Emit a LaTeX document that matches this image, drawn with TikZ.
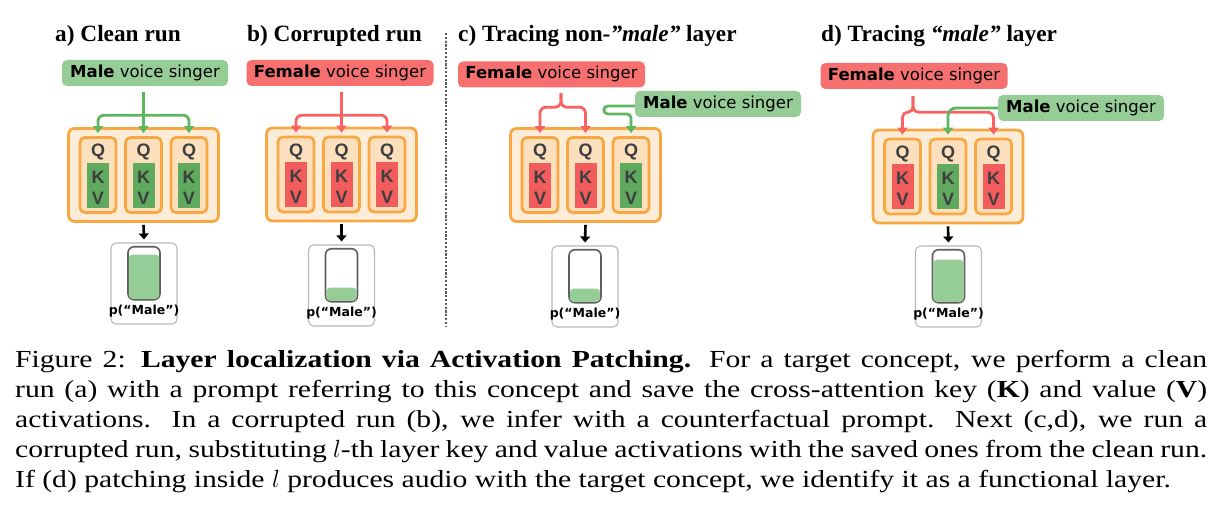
\documentclass[tikz,border=0pt]{standalone}
\usepackage{fontspec}
\setmainfont{Liberation Serif}
\newfontfamily\capfont[FakeStretch=1.21]{Liberation Serif}
\newfontfamily\comicfont{DejaVu Sans}
\newfontfamily\qkvfont{Liberation Sans}
\usetikzlibrary{arrows.meta,calc}
\definecolor{pgreen}{RGB}{150,204,150}
\definecolor{pred}{RGB}{247,112,112}
\definecolor{kvgreen}{RGB}{96,170,96}
\definecolor{kvred}{RGB}{242,92,92}
\definecolor{agreen}{RGB}{96,182,96}
\definecolor{ared}{RGB}{250,98,98}
\definecolor{orng}{RGB}{247,168,66}
\definecolor{ofill}{RGB}{253,237,216}
\definecolor{hfill}{RGB}{252,224,190}
\definecolor{lgray}{RGB}{62,62,62}
\definecolor{boxgray}{RGB}{185,185,185}
\definecolor{jargray}{RGB}{95,95,95}
\definecolor{dotgray}{RGB}{90,90,90}
\tikzset{
  prompt/.style={rounded corners=5pt, inner sep=0pt, minimum height=26pt,
    text height=12pt, text depth=3.5pt,
    font=\comicfont\fontsize{16.5}{18}\selectfont, text=black},
  maleprompt/.style={prompt, fill=pgreen, minimum width=166pt},
  femaleprompt/.style={prompt, fill=pred, minimum width=187pt},
  layerbox/.style={draw=orng, line width=2.8pt, fill=ofill, rounded corners=6pt,
    minimum width=150pt, minimum height=93pt, inner sep=0pt},
  headbox/.style={draw=orng, line width=2.8pt, fill=hfill, rounded corners=5pt,
    minimum width=36pt, minimum height=75pt, inner sep=0pt},
  kvbox/.style={minimum width=22pt, minimum height=45pt, inner sep=0pt},
  letter/.style={font=\qkvfont\bfseries\fontsize{18}{18}\selectfont, text=lgray, inner sep=0pt},
  probbox/.style={draw=boxgray, line width=1.1pt, rounded corners=5pt,
    minimum width=66pt, minimum height=81pt, inner sep=0pt},
  jarbox/.style={draw=jargray, line width=1.6pt, rounded corners=6pt,
    minimum width=32pt, minimum height=53pt, inner sep=0pt},
  plabel/.style={font=\comicfont\bfseries\fontsize{12.5}{13}\selectfont, inner sep=0pt},
  paneltitle/.style={font=\bfseries\fontsize{23.3}{26}\selectfont, inner sep=0pt, anchor=base west},
  garr/.style={draw=agreen, line width=2.8pt, -{Triangle[width=10pt,length=7pt]}},
  rarr/.style={draw=ared, line width=2.8pt, -{Triangle[width=10pt,length=7pt]}},
  garrline/.style={draw=agreen, line width=2.8pt},
  rarrline/.style={draw=ared, line width=2.8pt},
  karr/.style={draw=black, line width=2.6pt, -{Triangle[width=10pt,length=6pt]}},
}
\newcommand\headunit[4]{%
  \node[headbox] (#1) at (#2,#3) {};
  \node[kvbox, fill=#4] (#1kv) at ([yshift=-10.5pt]#1.center) {};
  \node[letter] (#1q) at ([yshift=23pt]#1.center) {Q};
  \node[letter] (#1k) at ([yshift=-2pt]#1.center) {K};
  \node[letter] (#1v) at ([yshift=-23pt]#1.center) {V};
}
\newcommand\layerunit[6]{%
  \node[layerbox] (#1L) at (#2,#3) {};
  \headunit{#1H1}{#2-45.5}{#3}{#4}
  \headunit{#1H2}{#2}{#3}{#5}
  \headunit{#1H3}{#2+45.5}{#3}{#6}
}
\newcommand\probunit[4]{%
  \node[probbox] (#1O) at (#2,#3+40.5) {};
  \node[jarbox, anchor=north] (#1J) at ([yshift=-3.5pt]#1O.north) {};
  \fill[pgreen, rounded corners=4pt] ([xshift=1.6pt,yshift=1.6pt]#1J.south west)
     rectangle ([xshift=-1.6pt,yshift=#4pt]#1J.south east);
  \node[plabel] (#1p) at ([yshift=13pt]#1O.south) {p(“Male”)};
}
\begin{document}
\begin{tikzpicture}[x=1pt,y=-1pt]
\useasboundingbox (0,0) rectangle (1224,526);

% titles
\node[paneltitle] (ta) at (55,42) {a) Clean run};
\node[paneltitle] (tb) at (247,42) {b) Corrupted run};
\node[paneltitle] (tc) at (458,42) {c) Tracing non-\textit{”male”} layer};
\node[paneltitle] (td) at (821,42) {d) Tracing \textit{“male”} layer};

% separator
\draw[dotgray, line width=2.6pt, dash pattern=on 2.2pt off 1.6pt] (446,33) -- (446,327);

% prompts
\node[maleprompt] (aP) at (145,73) {\textbf{Male} voice singer};
\node[femaleprompt] (bP) at (340,73) {\textbf{Female} voice singer};
\node[femaleprompt] (cP) at (551.5,74.5) {\textbf{Female} voice singer};
\node[maleprompt] (cM) at (718,104) {\textbf{Male} voice singer};
\node[femaleprompt] (dP) at (914,76) {\textbf{Female} voice singer};
\node[maleprompt] (dM) at (1081,108) {\textbf{Male} voice singer};

% layers
\layerunit{a}{143.5}{175}{kvgreen}{kvgreen}{kvgreen}
\layerunit{b}{341.5}{174.5}{kvred}{kvred}{kvred}
\layerunit{c}{585.5}{175}{kvred}{kvred}{kvgreen}
\layerunit{d}{948}{176.5}{kvred}{kvgreen}{kvred}

% panel a connectors
\coordinate (aS) at ([yshift=-6pt]aP.south -| aH2.north);
\draw[garrline] (aS) -- ++(0,23) coordinate (aB);
\draw[garr, rounded corners=6pt] (aB) -| ([yshift=3pt]aH1.north);
\draw[garr, rounded corners=6pt] (aB) -| ([yshift=3pt]aH3.north);
\draw[garr] (aS) -- ([yshift=3pt]aH2.north);

% panel b connectors
\coordinate (bS) at ([yshift=-6pt]bP.south -| bH2.north);
\draw[rarrline] (bS) -- ++(0,23) coordinate (bB);
\draw[rarr, rounded corners=6pt] (bB) -| ([yshift=3pt]bH1.north);
\draw[rarr, rounded corners=6pt] (bB) -| ([yshift=3pt]bH3.north);
\draw[rarr] (bS) -- ([yshift=3pt]bH2.north);

% panel c connectors
\coordinate (cS) at ([xshift=9.5pt,yshift=-5.5pt]cP.south);
\draw[rarr, rounded corners=6pt] (cS) -- ++(0,14) -| ([yshift=3pt]cH1.north);
\draw[rarr, rounded corners=6pt] (cS) -- ++(0,14) -| ([yshift=3pt]cH2.north);
\draw[garr, rounded corners=4pt] ([yshift=-2pt]cM.west) -- ++(-31,0) -- ++(0,8) -| ([yshift=3pt]cH3.north);

% panel d connectors
\coordinate (dS) at ([yshift=-7pt]dP.south -| 913,0);
\draw[rarr, rounded corners=5pt] (dS) -- ++(0,16) -| ([yshift=3pt]dH1.north);
\draw[rarr, rounded corners=6pt] (dS) -- ++(0,16) -| ([yshift=3pt]dH3.north);
\draw[garr, rounded corners=8pt] (dM.west) -| ([yshift=3pt]dH2.north);

% outputs
\probunit{a}{144}{243}{46}
\probunit{b}{341.5}{245}{15}
\probunit{c}{585}{246}{15}
\probunit{d}{948.5}{246}{44}

\draw[karr] ([yshift=-2pt]aL.south) -- ([yshift=3pt]aO.north);
\draw[karr] ([yshift=-2pt]bL.south) -- ([yshift=3pt]bO.north);
\draw[karr] ([yshift=-2pt]cL.south) -- ([yshift=3pt]cO.north);
\draw[karr] ([yshift=-2pt]dL.south) -- ([yshift=3pt]dO.north);

% caption
\node[anchor=north west, inner sep=0pt, text width=1192pt, align=justify,
      font=\capfont\fontsize{24.5}{30}\selectfont] (cap) at (15,350) {%
Figure 2: \textbf{Layer localization via Activation Patching.} For a target concept, we perform a clean\linebreak
run (a) with a prompt referring to this concept and save the cross-attention key (\textbf{K}) and value (\textbf{V})\linebreak
activations.  In a corrupted run (b), we infer with a counterfactual prompt.  Next (c,d), we run a\linebreak
corrupted run, substituting $l$-th layer key and value activations with the saved ones from the clean run.\linebreak
If (d) patching inside $l$ produces audio with the target concept, we identify it as a functional layer.};
\end{tikzpicture}
\end{document}
